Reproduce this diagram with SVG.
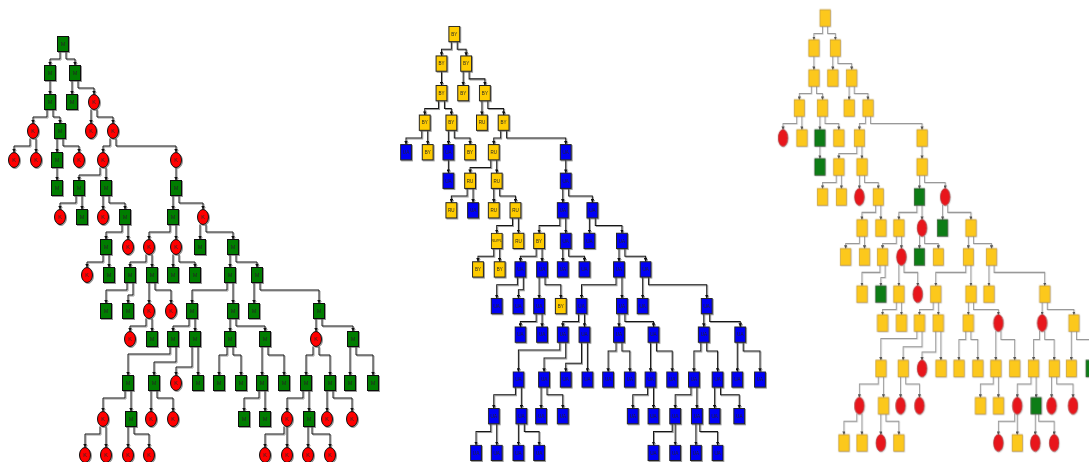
<svg xmlns="http://www.w3.org/2000/svg" width="1089" height="462" viewBox="0 0 1089 462">
<defs>
<marker id="ar" viewBox="0 0 6 6" refX="6" refY="3" markerWidth="3.6" markerHeight="3.6" orient="auto" markerUnits="userSpaceOnUse"><path d="M0,0L6,3L0,6z" fill="#111"/></marker>
<marker id="ar3" viewBox="0 0 6 6" refX="6" refY="3" markerWidth="3.6" markerHeight="3.6" orient="auto" markerUnits="userSpaceOnUse"><path d="M0,0L6,3L0,6z" fill="#555"/></marker>
<filter id="sh" x="-20%" y="-20%" width="140%" height="140%"><feDropShadow dx="1" dy="1" stdDeviation="0.5" flood-color="#555" flood-opacity="0.6"/></filter>
<filter id="sh3" x="-20%" y="-20%" width="140%" height="140%"><feDropShadow dx="0.6" dy="0.6" stdDeviation="0.6" flood-color="#888" flood-opacity="0.5"/></filter>
</defs>
<style>
.c{filter:url(#sh)}
.c path{fill:none;stroke:#151515;stroke-width:1;marker-end:url(#ar)}
.c3{filter:url(#sh3)}
.c3 path{fill:none;stroke:#999;stroke-width:1;marker-end:url(#ar3)}
.nd{filter:url(#sh)}
.nd3{filter:url(#sh3)}
.gm{fill:#017d01;stroke:#111;stroke-width:1}
.rk{fill:#f00;stroke:#111;stroke-width:1}
.yb{fill:#ffcc00;stroke:#222;stroke-width:1}
.bu{fill:#0000f5;stroke:#222;stroke-width:1}
.y3{fill:#fcc81c;stroke:#c9a033;stroke-width:0.8}
.g3{fill:#0b7d16;stroke:#2a5a2a;stroke-width:0.8}
.r3{fill:#e8141b;stroke:#b04040;stroke-width:0.8}
text{font-family:"Liberation Sans",Arial,sans-serif;text-anchor:middle;fill:#262626}
.t1 text{font-size:5.5px}
.t2 text{font-size:4.6px}
.t2 text.s{font-size:3.6px}
</style>

<!-- ===== Tree 1 ===== -->
<g id="tree1">
<g id="conn1" class="c">
<path d="M60,51.5V59H50V65.5"/><path d="M66,51.5V59H75V65.5"/><path d="M50,80.5V94.5"/><path d="M72,80.5V94.5"/><path d="M78,80.5V88H94V94.5"/>
<path d="M47,109.5V117H33V123.5"/><path d="M53,109.5V117H60V123.5"/><path d="M91,109.5V123.5"/><path d="M97,109.5V117H113V123.5"/>
<path d="M30,138.5V146H14V152.5"/><path d="M36,138.5V152.5"/><path d="M57,138.5V152.5"/><path d="M63,138.5V146H79V152.5"/><path d="M110,138.5V146H103V152.5"/><path d="M116,138.5V146H176V152.5"/>
<path d="M57,167.5V180.5"/><path d="M100,167.5V175H79V180.5"/><path d="M106,167.5V180.5"/><path d="M176,167.5V180.5"/>
<path d="M76,195.5V203H60V209.5"/><path d="M82,195.5V209.5"/><path d="M103,195.5V209.5"/><path d="M109,195.5V203H125V209.5"/><path d="M173,195.5V209.5"/><path d="M179,195.5V203H203V209.5"/>
<path d="M122,224.5V232H106V239.5"/><path d="M128,224.5V239.5"/><path d="M170,224.5V232H149V239.5"/><path d="M176,224.5V239.5"/><path d="M200,224.5V239.5"/><path d="M206,224.5V232H233V239.5"/>
<path d="M103,254.5V262H87V267.5"/><path d="M109,254.5V267.5"/><path d="M146,254.5V262H130V267.5"/><path d="M152,254.5V267.5"/><path d="M173,254.5V267.5"/><path d="M179,254.5V262H195V267.5"/><path d="M230,254.5V267.5"/><path d="M236,254.5V262H257V267.5"/>
<path d="M127,282.5V290H106V303.5"/><path d="M133,282.5V295H128V303.5"/><path d="M149,282.5V303.5"/><path d="M155,282.5V290H171V303.5"/><path d="M227,282.5V290H192V303.5"/><path d="M233,282.5V303.5"/><path d="M254,282.5V303.5"/><path d="M260,282.5V290H319V303.5"/>
<path d="M146,318.5V326H130V331.5"/><path d="M152,318.5V331.5"/><path d="M189,318.5V326H173V331.5"/><path d="M195,318.5V331.5"/><path d="M230,318.5V331.5"/><path d="M236,318.5V326H265V331.5"/><path d="M316,318.5V331.5"/><path d="M322,318.5V326H353V331.5"/>
<path d="M170,346.5V354H128V375.5"/><path d="M176,346.5V362H154V375.5"/><path d="M192,346.5V367H176V375.5"/><path d="M198,346.5V375.5"/><path d="M227,346.5V355H219V375.5"/><path d="M233,346.5V355H241V375.5"/><path d="M262,346.5V375.5"/><path d="M268,346.5V355H284V375.5"/><path d="M313,346.5V355H306V375.5"/><path d="M319,346.5V355H330V375.5"/><path d="M350,346.5V375.5"/><path d="M356,346.5V355H373V375.5"/>
<path d="M125,390.5V398H103V411.5"/><path d="M131,390.5V411.5"/><path d="M151,390.5V411.5"/><path d="M157,390.5V398H173V411.5"/><path d="M259,390.5V398H244V411.5"/><path d="M265,390.5V411.5"/><path d="M303,390.5V398H287V411.5"/><path d="M309,390.5V411.5"/><path d="M327,390.5V411.5"/><path d="M333,390.5V398H352V411.5"/>
<path d="M100,426.5V434H85V447.5"/><path d="M106,426.5V447.5"/><path d="M128,426.5V447.5"/><path d="M134,426.5V434H149V447.5"/><path d="M284,426.5V434H265V447.5"/><path d="M287,426.5V447.5"/><path d="M308,426.5V447.5"/><path d="M312,426.5V434H330V447.5"/>
</g>
<g id="nodes1" class="nd t1">
<g id="a0" transform="translate(63,44)"><rect class="gm" x="-5.5" y="-7.5" width="11" height="15"/><text y="2">M</text></g>
<g id="a1" transform="translate(50,73)"><rect class="gm" x="-5.5" y="-7.5" width="11" height="15"/><text y="2">M</text></g>
<g id="a2" transform="translate(75,73)"><rect class="gm" x="-5.5" y="-7.5" width="11" height="15"/><text y="2">M</text></g>
<g id="a3" transform="translate(50,102)"><rect class="gm" x="-5.5" y="-7.5" width="11" height="15"/><text y="2">M</text></g>
<g id="a4" transform="translate(72,102)"><rect class="gm" x="-5.5" y="-7.5" width="11" height="15"/><text y="2">M</text></g>
<g id="a5" transform="translate(94,102)"><ellipse class="rk" rx="5.5" ry="7.5"/><text y="2">K</text></g>
<g id="a6" transform="translate(33,131)"><ellipse class="rk" rx="5.5" ry="7.5"/><text y="2">K</text></g>
<g id="a7" transform="translate(60,131)"><rect class="gm" x="-5.5" y="-7.5" width="11" height="15"/><text y="2">M</text></g>
<g id="a8" transform="translate(91,131)"><ellipse class="rk" rx="5.5" ry="7.5"/><text y="2">K</text></g>
<g id="a9" transform="translate(113,131)"><ellipse class="rk" rx="5.5" ry="7.5"/><text y="2">K</text></g>
<g id="a10" transform="translate(14,160)"><ellipse class="rk" rx="5.5" ry="7.5"/><text y="2">K</text></g>
<g id="a11" transform="translate(36,160)"><ellipse class="rk" rx="5.5" ry="7.5"/><text y="2">K</text></g>
<g id="a12" transform="translate(57,160)"><rect class="gm" x="-5.5" y="-7.5" width="11" height="15"/><text y="2">M</text></g>
<g id="a13" transform="translate(79,160)"><ellipse class="rk" rx="5.5" ry="7.5"/><text y="2">K</text></g>
<g id="a14" transform="translate(103,160)"><ellipse class="rk" rx="5.5" ry="7.5"/><text y="2">K</text></g>
<g id="a15" transform="translate(176,160)"><ellipse class="rk" rx="5.5" ry="7.5"/><text y="2">K</text></g>
<g id="a16" transform="translate(57,188)"><rect class="gm" x="-5.5" y="-7.5" width="11" height="15"/><text y="2">M</text></g>
<g id="a17" transform="translate(79,188)"><rect class="gm" x="-5.5" y="-7.5" width="11" height="15"/><text y="2">M</text></g>
<g id="a18" transform="translate(106,188)"><rect class="gm" x="-5.5" y="-7.5" width="11" height="15"/><text y="2">M</text></g>
<g id="a19" transform="translate(176,188)"><rect class="gm" x="-5.5" y="-7.5" width="11" height="15"/><text y="2">M</text></g>
<g id="a20" transform="translate(60,217)"><ellipse class="rk" rx="5.5" ry="7.5"/><text y="2">K</text></g>
<g id="a21" transform="translate(82,217)"><rect class="gm" x="-5.5" y="-7.5" width="11" height="15"/><text y="2">M</text></g>
<g id="a22" transform="translate(103,217)"><ellipse class="rk" rx="5.5" ry="7.5"/><text y="2">K</text></g>
<g id="a23" transform="translate(125,217)"><rect class="gm" x="-5.5" y="-7.5" width="11" height="15"/><text y="2">M</text></g>
<g id="a24" transform="translate(173,217)"><rect class="gm" x="-5.5" y="-7.5" width="11" height="15"/><text y="2">M</text></g>
<g id="a25" transform="translate(203,217)"><ellipse class="rk" rx="5.5" ry="7.5"/><text y="2">K</text></g>
<g id="a26" transform="translate(106,247)"><rect class="gm" x="-5.5" y="-7.5" width="11" height="15"/><text y="2">M</text></g>
<g id="a27" transform="translate(128,247)"><ellipse class="rk" rx="5.5" ry="7.5"/><text y="2">K</text></g>
<g id="a28" transform="translate(149,247)"><ellipse class="rk" rx="5.5" ry="7.5"/><text y="2">K</text></g>
<g id="a29" transform="translate(176,247)"><ellipse class="rk" rx="5.5" ry="7.5"/><text y="2">K</text></g>
<g id="a30" transform="translate(200,247)"><rect class="gm" x="-5.5" y="-7.5" width="11" height="15"/><text y="2">M</text></g>
<g id="a31" transform="translate(233,247)"><rect class="gm" x="-5.5" y="-7.5" width="11" height="15"/><text y="2">M</text></g>
<g id="a32" transform="translate(87,275)"><ellipse class="rk" rx="5.5" ry="7.5"/><text y="2">K</text></g>
<g id="a33" transform="translate(109,275)"><rect class="gm" x="-5.5" y="-7.5" width="11" height="15"/><text y="2">M</text></g>
<g id="a34" transform="translate(130,275)"><rect class="gm" x="-5.5" y="-7.5" width="11" height="15"/><text y="2">M</text></g>
<g id="a35" transform="translate(152,275)"><rect class="gm" x="-5.5" y="-7.5" width="11" height="15"/><text y="2">M</text></g>
<g id="a36" transform="translate(173,275)"><rect class="gm" x="-5.5" y="-7.5" width="11" height="15"/><text y="2">M</text></g>
<g id="a37" transform="translate(195,275)"><rect class="gm" x="-5.5" y="-7.5" width="11" height="15"/><text y="2">M</text></g>
<g id="a38" transform="translate(230,275)"><rect class="gm" x="-5.5" y="-7.5" width="11" height="15"/><text y="2">M</text></g>
<g id="a39" transform="translate(257,275)"><rect class="gm" x="-5.5" y="-7.5" width="11" height="15"/><text y="2">M</text></g>
<g id="a40" transform="translate(106,311)"><rect class="gm" x="-5.5" y="-7.5" width="11" height="15"/><text y="2">M</text></g>
<g id="a41" transform="translate(128,311)"><rect class="gm" x="-5.5" y="-7.5" width="11" height="15"/><text y="2">M</text></g>
<g id="a42" transform="translate(149,311)"><ellipse class="rk" rx="5.5" ry="7.5"/><text y="2">K</text></g>
<g id="a43" transform="translate(171,311)"><ellipse class="rk" rx="5.5" ry="7.5"/><text y="2">K</text></g>
<g id="a44" transform="translate(192,311)"><rect class="gm" x="-5.5" y="-7.5" width="11" height="15"/><text y="2">M</text></g>
<g id="a45" transform="translate(233,311)"><rect class="gm" x="-5.5" y="-7.5" width="11" height="15"/><text y="2">M</text></g>
<g id="a46" transform="translate(254,311)"><rect class="gm" x="-5.5" y="-7.5" width="11" height="15"/><text y="2">M</text></g>
<g id="a47" transform="translate(319,311)"><rect class="gm" x="-5.5" y="-7.5" width="11" height="15"/><text y="2">M</text></g>
<g id="a48" transform="translate(130,339)"><ellipse class="rk" rx="5.5" ry="7.5"/><text y="2">K</text></g>
<g id="a49" transform="translate(152,339)"><rect class="gm" x="-5.5" y="-7.5" width="11" height="15"/><text y="2">M</text></g>
<g id="a50" transform="translate(173,339)"><rect class="gm" x="-5.5" y="-7.5" width="11" height="15"/><text y="2">M</text></g>
<g id="a51" transform="translate(195,339)"><rect class="gm" x="-5.5" y="-7.5" width="11" height="15"/><text y="2">M</text></g>
<g id="a52" transform="translate(230,339)"><rect class="gm" x="-5.5" y="-7.5" width="11" height="15"/><text y="2">M</text></g>
<g id="a53" transform="translate(265,339)"><rect class="gm" x="-5.5" y="-7.5" width="11" height="15"/><text y="2">M</text></g>
<g id="a54" transform="translate(316,339)"><ellipse class="rk" rx="5.5" ry="7.5"/><text y="2">K</text></g>
<g id="a55" transform="translate(353,339)"><rect class="gm" x="-5.5" y="-7.5" width="11" height="15"/><text y="2">M</text></g>
<g id="a56" transform="translate(128,383)"><rect class="gm" x="-5.5" y="-7.5" width="11" height="15"/><text y="2">M</text></g>
<g id="a57" transform="translate(154,383)"><rect class="gm" x="-5.5" y="-7.5" width="11" height="15"/><text y="2">M</text></g>
<g id="a58" transform="translate(176,383)"><ellipse class="rk" rx="5.5" ry="7.5"/><text y="2">K</text></g>
<g id="a59" transform="translate(198,383)"><rect class="gm" x="-5.5" y="-7.5" width="11" height="15"/><text y="2">M</text></g>
<g id="a60" transform="translate(219,383)"><rect class="gm" x="-5.5" y="-7.5" width="11" height="15"/><text y="2">M</text></g>
<g id="a61" transform="translate(241,383)"><rect class="gm" x="-5.5" y="-7.5" width="11" height="15"/><text y="2">M</text></g>
<g id="a62" transform="translate(262,383)"><rect class="gm" x="-5.5" y="-7.5" width="11" height="15"/><text y="2">M</text></g>
<g id="a63" transform="translate(284,383)"><rect class="gm" x="-5.5" y="-7.5" width="11" height="15"/><text y="2">M</text></g>
<g id="a64" transform="translate(306,383)"><rect class="gm" x="-5.5" y="-7.5" width="11" height="15"/><text y="2">M</text></g>
<g id="a65" transform="translate(330,383)"><rect class="gm" x="-5.5" y="-7.5" width="11" height="15"/><text y="2">M</text></g>
<g id="a66" transform="translate(350,383)"><rect class="gm" x="-5.5" y="-7.5" width="11" height="15"/><text y="2">M</text></g>
<g id="a67" transform="translate(373,383)"><rect class="gm" x="-5.5" y="-7.5" width="11" height="15"/><text y="2">M</text></g>
<g id="a68" transform="translate(103,419)"><ellipse class="rk" rx="5.5" ry="7.5"/><text y="2">K</text></g>
<g id="a69" transform="translate(131,419)"><rect class="gm" x="-5.5" y="-7.5" width="11" height="15"/><text y="2">M</text></g>
<g id="a70" transform="translate(151,419)"><ellipse class="rk" rx="5.5" ry="7.5"/><text y="2">K</text></g>
<g id="a71" transform="translate(173,419)"><ellipse class="rk" rx="5.5" ry="7.5"/><text y="2">K</text></g>
<g id="a72" transform="translate(244,419)"><rect class="gm" x="-5.5" y="-7.5" width="11" height="15"/><text y="2">M</text></g>
<g id="a73" transform="translate(265,419)"><rect class="gm" x="-5.5" y="-7.5" width="11" height="15"/><text y="2">M</text></g>
<g id="a74" transform="translate(287,419)"><ellipse class="rk" rx="5.5" ry="7.5"/><text y="2">K</text></g>
<g id="a75" transform="translate(309,419)"><rect class="gm" x="-5.5" y="-7.5" width="11" height="15"/><text y="2">M</text></g>
<g id="a76" transform="translate(327,419)"><ellipse class="rk" rx="5.5" ry="7.5"/><text y="2">K</text></g>
<g id="a77" transform="translate(352,419)"><ellipse class="rk" rx="5.5" ry="7.5"/><text y="2">K</text></g>
<g id="a78" transform="translate(85,455)"><ellipse class="rk" rx="5.5" ry="7.5"/><text y="2">K</text></g>
<g id="a79" transform="translate(106,455)"><ellipse class="rk" rx="5.5" ry="7.5"/><text y="2">K</text></g>
<g id="a80" transform="translate(128,455)"><ellipse class="rk" rx="5.5" ry="7.5"/><text y="2">K</text></g>
<g id="a81" transform="translate(149,455)"><ellipse class="rk" rx="5.5" ry="7.5"/><text y="2">K</text></g>
<g id="a82" transform="translate(265,455)"><ellipse class="rk" rx="5.5" ry="7.5"/><text y="2">K</text></g>
<g id="a83" transform="translate(287,455)"><ellipse class="rk" rx="5.5" ry="7.5"/><text y="2">K</text></g>
<g id="a84" transform="translate(308,455)"><ellipse class="rk" rx="5.5" ry="7.5"/><text y="2">K</text></g>
<g id="a85" transform="translate(330,455)"><ellipse class="rk" rx="5.5" ry="7.5"/><text y="2">K</text></g>
</g>
</g>

<!-- ===== Tree 2 ===== -->
<g id="tree2" transform="matrix(0.986 0 0 1.019 392.2 -10.8)">
<g id="conn2" class="c">
<path d="M60,51.5V59H50V65.5"/><path d="M66,51.5V59H75V65.5"/><path d="M50,80.5V94.5"/><path d="M72,80.5V94.5"/><path d="M78,80.5V88H94V94.5"/>
<path d="M47,109.5V117H33V123.5"/><path d="M53,109.5V117H60V123.5"/><path d="M91,109.5V123.5"/><path d="M97,109.5V117H113V123.5"/>
<path d="M30,138.5V146H14V152.5"/><path d="M36,138.5V152.5"/><path d="M57,138.5V152.5"/><path d="M63,138.5V146H79V152.5"/><path d="M110,138.5V146H103V152.5"/><path d="M116,138.5V146H176V152.5"/>
<path d="M57,167.5V180.5"/><path d="M100,167.5V175H79V180.5"/><path d="M106,167.5V180.5"/><path d="M176,167.5V180.5"/>
<path d="M76,195.5V203H60V209.5"/><path d="M82,195.5V209.5"/><path d="M103,195.5V209.5"/><path d="M109,195.5V203H125V209.5"/><path d="M173,195.5V209.5"/><path d="M179,195.5V203H203V209.5"/>
<path d="M122,224.5V232H106V239.5"/><path d="M128,224.5V239.5"/><path d="M170,224.5V232H149V239.5"/><path d="M176,224.5V239.5"/><path d="M200,224.5V239.5"/><path d="M206,224.5V232H233V239.5"/>
<path d="M103,254.5V262H87V267.5"/><path d="M109,254.5V267.5"/><path d="M146,254.5V262H130V267.5"/><path d="M152,254.5V267.5"/><path d="M173,254.5V267.5"/><path d="M179,254.5V262H195V267.5"/><path d="M230,254.5V267.5"/><path d="M236,254.5V262H257V267.5"/>
<path d="M127,282.5V290H106V303.5"/><path d="M133,282.5V295H128V303.5"/><path d="M149,282.5V303.5"/><path d="M155,282.5V290H171V303.5"/><path d="M227,282.5V290H192V303.5"/><path d="M233,282.5V303.5"/><path d="M254,282.5V303.5"/><path d="M260,282.5V290H319V303.5"/>
<path d="M146,318.5V326H130V331.5"/><path d="M152,318.5V331.5"/><path d="M189,318.5V326H173V331.5"/><path d="M195,318.5V331.5"/><path d="M230,318.5V331.5"/><path d="M236,318.5V326H265V331.5"/><path d="M316,318.5V331.5"/><path d="M322,318.5V326H353V331.5"/>
<path d="M170,346.5V354H128V375.5"/><path d="M176,346.5V362H154V375.5"/><path d="M192,346.5V367H176V375.5"/><path d="M198,346.5V375.5"/><path d="M227,346.5V355H219V375.5"/><path d="M233,346.5V355H241V375.5"/><path d="M262,346.5V375.5"/><path d="M268,346.5V355H284V375.5"/><path d="M313,346.5V355H306V375.5"/><path d="M319,346.5V355H330V375.5"/><path d="M350,346.5V375.5"/><path d="M356,346.5V355H373V375.5"/>
<path d="M125,390.5V398H103V411.5"/><path d="M131,390.5V411.5"/><path d="M151,390.5V411.5"/><path d="M157,390.5V398H173V411.5"/><path d="M259,390.5V398H244V411.5"/><path d="M265,390.5V411.5"/><path d="M303,390.5V398H287V411.5"/><path d="M309,390.5V411.5"/><path d="M327,390.5V411.5"/><path d="M333,390.5V398H352V411.5"/>
<path d="M100,426.5V434H85V447.5"/><path d="M106,426.5V447.5"/><path d="M128,426.5V447.5"/><path d="M134,426.5V434H149V447.5"/><path d="M284,426.5V434H265V447.5"/><path d="M287,426.5V447.5"/><path d="M308,426.5V447.5"/><path d="M312,426.5V434H330V447.5"/>
</g>
<g id="nodes2" class="nd t2">
<g id="b0" transform="translate(63,44)"><rect class="yb" x="-5.5" y="-7.5" width="11" height="15"/><text y="1.7">BY</text></g>
<g id="b1" transform="translate(50,73)"><rect class="yb" x="-5.5" y="-7.5" width="11" height="15"/><text y="1.7">BY</text></g>
<g id="b2" transform="translate(75,73)"><rect class="yb" x="-5.5" y="-7.5" width="11" height="15"/><text y="1.7">BY</text></g>
<g id="b3" transform="translate(50,102)"><rect class="yb" x="-5.5" y="-7.5" width="11" height="15"/><text y="1.7">BY</text></g>
<g id="b4" transform="translate(72,102)"><rect class="yb" x="-5.5" y="-7.5" width="11" height="15"/><text y="1.7">BY</text></g>
<g id="b5" transform="translate(94,102)"><rect class="yb" x="-5.5" y="-7.5" width="11" height="15"/><text y="1.7">BY</text></g>
<g id="b6" transform="translate(33,131)"><rect class="yb" x="-5.5" y="-7.5" width="11" height="15"/><text y="1.7">BY</text></g>
<g id="b7" transform="translate(60,131)"><rect class="yb" x="-5.5" y="-7.5" width="11" height="15"/><text y="1.7">BY</text></g>
<g id="b8" transform="translate(91,131)"><rect class="yb" x="-5.5" y="-7.5" width="11" height="15"/><text y="1.7">RU</text></g>
<g id="b9" transform="translate(113,131)"><rect class="yb" x="-5.5" y="-7.5" width="11" height="15"/><text y="1.7">BY</text></g>
<g id="b10" transform="translate(14,160)"><rect class="bu" x="-5.5" y="-7.5" width="11" height="15"/><text y="1.7">UA</text></g>
<g id="b11" transform="translate(36,160)"><rect class="yb" x="-5.5" y="-7.5" width="11" height="15"/><text y="1.7">BY</text></g>
<g id="b12" transform="translate(57,160)"><rect class="bu" x="-5.5" y="-7.5" width="11" height="15"/><text y="1.7">UA</text></g>
<g id="b13" transform="translate(79,160)"><rect class="yb" x="-5.5" y="-7.5" width="11" height="15"/><text y="1.7">BY</text></g>
<g id="b14" transform="translate(103,160)"><rect class="yb" x="-5.5" y="-7.5" width="11" height="15"/><text y="1.7">RU</text></g>
<g id="b15" transform="translate(176,160)"><rect class="bu" x="-5.5" y="-7.5" width="11" height="15"/><text y="1.7">UA</text></g>
<g id="b16" transform="translate(57,188)"><rect class="bu" x="-5.5" y="-7.5" width="11" height="15"/><text y="1.7">UA</text></g>
<g id="b17" transform="translate(79,188)"><rect class="yb" x="-5.5" y="-7.5" width="11" height="15"/><text y="1.7">RU</text></g>
<g id="b18" transform="translate(106,188)"><rect class="yb" x="-5.5" y="-7.5" width="11" height="15"/><text y="1.7">RU</text></g>
<g id="b19" transform="translate(176,188)"><rect class="bu" x="-5.5" y="-7.5" width="11" height="15"/><text y="1.7">UA</text></g>
<g id="b20" transform="translate(60,217)"><rect class="yb" x="-5.5" y="-7.5" width="11" height="15"/><text y="1.7">RU</text></g>
<g id="b21" transform="translate(82,217)"><rect class="bu" x="-5.5" y="-7.5" width="11" height="15"/><text y="1.7">UA</text></g>
<g id="b22" transform="translate(103,217)"><rect class="yb" x="-5.5" y="-7.5" width="11" height="15"/><text y="1.7">RU</text></g>
<g id="b23" transform="translate(125,217)"><rect class="yb" x="-5.5" y="-7.5" width="11" height="15"/><text y="1.7">RU</text></g>
<g id="b24" transform="translate(173,217)"><rect class="bu" x="-5.5" y="-7.5" width="11" height="15"/><text y="1.7">UA</text></g>
<g id="b25" transform="translate(203,217)"><rect class="bu" x="-5.5" y="-7.5" width="11" height="15"/><text y="1.7">UA</text></g>
<g id="b26" transform="translate(106,247)"><rect class="yb" x="-5.5" y="-7.5" width="11" height="15"/><text class="s" y="1.4">RU/PL</text></g>
<g id="b27" transform="translate(128,247)"><rect class="yb" x="-5.5" y="-7.5" width="11" height="15"/><text y="1.7">RU</text></g>
<g id="b28" transform="translate(149,247)"><rect class="yb" x="-5.5" y="-7.5" width="11" height="15"/><text y="1.7">BY</text></g>
<g id="b29" transform="translate(176,247)"><rect class="bu" x="-5.5" y="-7.5" width="11" height="15"/><text y="1.7">UA</text></g>
<g id="b30" transform="translate(200,247)"><rect class="bu" x="-5.5" y="-7.5" width="11" height="15"/><text y="1.7">UA</text></g>
<g id="b31" transform="translate(233,247)"><rect class="bu" x="-5.5" y="-7.5" width="11" height="15"/><text y="1.7">UA</text></g>
<g id="b32" transform="translate(87,275)"><rect class="yb" x="-5.5" y="-7.5" width="11" height="15"/><text y="1.7">BY</text></g>
<g id="b33" transform="translate(109,275)"><rect class="yb" x="-5.5" y="-7.5" width="11" height="15"/><text y="1.7">BY</text></g>
<g id="b34" transform="translate(130,275)"><rect class="bu" x="-5.5" y="-7.5" width="11" height="15"/><text y="1.7">UA</text></g>
<g id="b35" transform="translate(152,275)"><rect class="bu" x="-5.5" y="-7.5" width="11" height="15"/><text y="1.7">UA</text></g>
<g id="b36" transform="translate(173,275)"><rect class="bu" x="-5.5" y="-7.5" width="11" height="15"/><text y="1.7">UA</text></g>
<g id="b37" transform="translate(195,275)"><rect class="bu" x="-5.5" y="-7.5" width="11" height="15"/><text y="1.7">UA</text></g>
<g id="b38" transform="translate(230,275)"><rect class="bu" x="-5.5" y="-7.5" width="11" height="15"/><text y="1.7">UA</text></g>
<g id="b39" transform="translate(257,275)"><rect class="bu" x="-5.5" y="-7.5" width="11" height="15"/><text y="1.7">UA</text></g>
<g id="b40" transform="translate(106,311)"><rect class="bu" x="-5.5" y="-7.5" width="11" height="15"/><text y="1.7">UA</text></g>
<g id="b41" transform="translate(128,311)"><rect class="bu" x="-5.5" y="-7.5" width="11" height="15"/><text y="1.7">UA</text></g>
<g id="b42" transform="translate(149,311)"><rect class="bu" x="-5.5" y="-7.5" width="11" height="15"/><text y="1.7">UA</text></g>
<g id="b43" transform="translate(171,311)"><rect class="yb" x="-5.5" y="-7.5" width="11" height="15"/><text y="1.7">BY</text></g>
<g id="b44" transform="translate(192,311)"><rect class="bu" x="-5.5" y="-7.5" width="11" height="15"/><text y="1.7">UA</text></g>
<g id="b45" transform="translate(233,311)"><rect class="bu" x="-5.5" y="-7.5" width="11" height="15"/><text y="1.7">UA</text></g>
<g id="b46" transform="translate(254,311)"><rect class="bu" x="-5.5" y="-7.5" width="11" height="15"/><text y="1.7">UA</text></g>
<g id="b47" transform="translate(319,311)"><rect class="bu" x="-5.5" y="-7.5" width="11" height="15"/><text y="1.7">UA</text></g>
<g id="b48" transform="translate(130,339)"><rect class="bu" x="-5.5" y="-7.5" width="11" height="15"/><text y="1.7">UA</text></g>
<g id="b49" transform="translate(152,339)"><rect class="bu" x="-5.5" y="-7.5" width="11" height="15"/><text y="1.7">UA</text></g>
<g id="b50" transform="translate(173,339)"><rect class="bu" x="-5.5" y="-7.5" width="11" height="15"/><text y="1.7">UA</text></g>
<g id="b51" transform="translate(195,339)"><rect class="bu" x="-5.5" y="-7.5" width="11" height="15"/><text y="1.7">UA</text></g>
<g id="b52" transform="translate(230,339)"><rect class="bu" x="-5.5" y="-7.5" width="11" height="15"/><text y="1.7">UA</text></g>
<g id="b53" transform="translate(265,339)"><rect class="bu" x="-5.5" y="-7.5" width="11" height="15"/><text y="1.7">UA</text></g>
<g id="b54" transform="translate(316,339)"><rect class="bu" x="-5.5" y="-7.5" width="11" height="15"/><text y="1.7">UA</text></g>
<g id="b55" transform="translate(353,339)"><rect class="bu" x="-5.5" y="-7.5" width="11" height="15"/><text y="1.7">UA</text></g>
<g id="b56" transform="translate(128,383)"><rect class="bu" x="-5.5" y="-7.5" width="11" height="15"/><text y="1.7">UA</text></g>
<g id="b57" transform="translate(154,383)"><rect class="bu" x="-5.5" y="-7.5" width="11" height="15"/><text y="1.7">UA</text></g>
<g id="b58" transform="translate(176,383)"><rect class="bu" x="-5.5" y="-7.5" width="11" height="15"/><text y="1.7">UA</text></g>
<g id="b59" transform="translate(198,383)"><rect class="bu" x="-5.5" y="-7.5" width="11" height="15"/><text y="1.7">UA</text></g>
<g id="b60" transform="translate(219,383)"><rect class="bu" x="-5.5" y="-7.5" width="11" height="15"/><text y="1.7">UA</text></g>
<g id="b61" transform="translate(241,383)"><rect class="bu" x="-5.5" y="-7.5" width="11" height="15"/><text y="1.7">UA</text></g>
<g id="b62" transform="translate(262,383)"><rect class="bu" x="-5.5" y="-7.5" width="11" height="15"/><text y="1.7">UA</text></g>
<g id="b63" transform="translate(284,383)"><rect class="bu" x="-5.5" y="-7.5" width="11" height="15"/><text y="1.7">UA</text></g>
<g id="b64" transform="translate(306,383)"><rect class="bu" x="-5.5" y="-7.5" width="11" height="15"/><text y="1.7">UA</text></g>
<g id="b65" transform="translate(330,383)"><rect class="bu" x="-5.5" y="-7.5" width="11" height="15"/><text y="1.7">UA</text></g>
<g id="b66" transform="translate(350,383)"><rect class="bu" x="-5.5" y="-7.5" width="11" height="15"/><text y="1.7">UA</text></g>
<g id="b67" transform="translate(373,383)"><rect class="bu" x="-5.5" y="-7.5" width="11" height="15"/><text y="1.7">UA</text></g>
<g id="b68" transform="translate(103,419)"><rect class="bu" x="-5.5" y="-7.5" width="11" height="15"/><text y="1.7">UA</text></g>
<g id="b69" transform="translate(131,419)"><rect class="bu" x="-5.5" y="-7.5" width="11" height="15"/><text y="1.7">UA</text></g>
<g id="b70" transform="translate(151,419)"><rect class="bu" x="-5.5" y="-7.5" width="11" height="15"/><text y="1.7">UA</text></g>
<g id="b71" transform="translate(173,419)"><rect class="bu" x="-5.5" y="-7.5" width="11" height="15"/><text y="1.7">UA</text></g>
<g id="b72" transform="translate(244,419)"><rect class="bu" x="-5.5" y="-7.5" width="11" height="15"/><text y="1.7">UA</text></g>
<g id="b73" transform="translate(265,419)"><rect class="bu" x="-5.5" y="-7.5" width="11" height="15"/><text y="1.7">UA</text></g>
<g id="b74" transform="translate(287,419)"><rect class="bu" x="-5.5" y="-7.5" width="11" height="15"/><text y="1.7">UA</text></g>
<g id="b75" transform="translate(309,419)"><rect class="bu" x="-5.5" y="-7.5" width="11" height="15"/><text y="1.7">UA</text></g>
<g id="b76" transform="translate(327,419)"><rect class="bu" x="-5.5" y="-7.5" width="11" height="15"/><text y="1.7">UA</text></g>
<g id="b77" transform="translate(352,419)"><rect class="bu" x="-5.5" y="-7.5" width="11" height="15"/><text y="1.7">UA</text></g>
<g id="b78" transform="translate(85,455)"><rect class="bu" x="-5.5" y="-7.5" width="11" height="15"/><text y="1.7">UA</text></g>
<g id="b79" transform="translate(106,455)"><rect class="bu" x="-5.5" y="-7.5" width="11" height="15"/><text y="1.7">UA</text></g>
<g id="b80" transform="translate(128,455)"><rect class="bu" x="-5.5" y="-7.5" width="11" height="15"/><text y="1.7">UA</text></g>
<g id="b81" transform="translate(149,455)"><rect class="bu" x="-5.5" y="-7.5" width="11" height="15"/><text y="1.7">UA</text></g>
<g id="b82" transform="translate(265,455)"><rect class="bu" x="-5.5" y="-7.5" width="11" height="15"/><text y="1.7">UA</text></g>
<g id="b83" transform="translate(287,455)"><rect class="bu" x="-5.5" y="-7.5" width="11" height="15"/><text y="1.7">UA</text></g>
<g id="b84" transform="translate(308,455)"><rect class="bu" x="-5.5" y="-7.5" width="11" height="15"/><text y="1.7">UA</text></g>
<g id="b85" transform="translate(330,455)"><rect class="bu" x="-5.5" y="-7.5" width="11" height="15"/><text y="1.7">UA</text></g>
</g>
</g>

<!-- ===== Tree 3 ===== -->
<g id="tree3" transform="matrix(0.858 0 0 1.034 771 -27.5)">
<g id="conn3" class="c3">
<path d="M60,51.5V59H50V65.5"/><path d="M66,51.5V59H75V65.5"/><path d="M50,80.5V94.5"/><path d="M72,80.5V94.5"/><path d="M78,80.5V88H94V94.5"/>
<path d="M47,109.5V117H33V123.5"/><path d="M53,109.5V117H60V123.5"/><path d="M91,109.5V123.5"/><path d="M97,109.5V117H113V123.5"/>
<path d="M30,138.5V146H14V152.5"/><path d="M36,138.5V152.5"/><path d="M57,138.5V152.5"/><path d="M63,138.5V146H79V152.5"/><path d="M110,138.5V146H103V152.5"/><path d="M116,138.5V146H176V152.5"/>
<path d="M57,167.5V180.5"/><path d="M100,167.5V175H79V180.5"/><path d="M106,167.5V180.5"/><path d="M176,167.5V180.5"/>
<path d="M76,195.5V203H60V209.5"/><path d="M82,195.5V209.5"/><path d="M103,195.5V209.5"/><path d="M109,195.5V203H125V209.5"/><path d="M173,195.5V209.5"/><path d="M179,195.5V203H203V209.5"/>
<path d="M122,224.5V232H106V239.5"/><path d="M128,224.5V239.5"/><path d="M170,224.5V232H149V239.5"/><path d="M176,224.5V239.5"/><path d="M200,224.5V239.5"/><path d="M206,224.5V232H233V239.5"/>
<path d="M103,254.5V262H87V267.5"/><path d="M109,254.5V267.5"/><path d="M146,254.5V262H130V267.5"/><path d="M152,254.5V267.5"/><path d="M173,254.5V267.5"/><path d="M179,254.5V262H195V267.5"/><path d="M230,254.5V267.5"/><path d="M236,254.5V262H257V267.5"/>
<path d="M127,282.5V290H106V303.5"/><path d="M133,282.5V295H128V303.5"/><path d="M149,282.5V303.5"/><path d="M155,282.5V290H171V303.5"/><path d="M227,282.5V290H192V303.5"/><path d="M233,282.5V303.5"/><path d="M254,282.5V303.5"/><path d="M260,282.5V290H319V303.5"/>
<path d="M146,318.5V326H130V331.5"/><path d="M152,318.5V331.5"/><path d="M189,318.5V326H173V331.5"/><path d="M195,318.5V331.5"/><path d="M230,318.5V331.5"/><path d="M236,318.5V326H265V331.5"/><path d="M316,318.5V331.5"/><path d="M322,318.5V326H353V331.5"/>
<path d="M170,346.5V354H128V375.5"/><path d="M176,346.5V362H154V375.5"/><path d="M192,346.5V367H176V375.5"/><path d="M198,346.5V375.5"/><path d="M227,346.5V355H219V375.5"/><path d="M233,346.5V355H241V375.5"/><path d="M262,346.5V375.5"/><path d="M268,346.5V355H284V375.5"/><path d="M313,346.5V355H306V375.5"/><path d="M319,346.5V355H330V375.5"/><path d="M350,346.5V375.5"/><path d="M356,346.5V355H373V375.5"/>
<path d="M125,390.5V398H103V411.5"/><path d="M131,390.5V411.5"/><path d="M151,390.5V411.5"/><path d="M157,390.5V398H173V411.5"/><path d="M259,390.5V398H244V411.5"/><path d="M265,390.5V411.5"/><path d="M303,390.5V398H287V411.5"/><path d="M309,390.5V411.5"/><path d="M327,390.5V411.5"/><path d="M333,390.5V398H352V411.5"/>
<path d="M100,426.5V434H85V447.5"/><path d="M106,426.5V447.5"/><path d="M128,426.5V447.5"/><path d="M134,426.5V434H149V447.5"/><path d="M284,426.5V434H265V447.5"/><path d="M287,426.5V447.5"/><path d="M308,426.5V447.5"/><path d="M312,426.5V434H330V447.5"/>
</g>
<g id="nodes3" class="nd3">
<g id="c0" transform="translate(63,44)"><rect class="y3" x="-6" y="-8" width="12" height="16"/></g>
<g id="c1" transform="translate(50,73)"><rect class="y3" x="-6" y="-8" width="12" height="16"/></g>
<g id="c2" transform="translate(75,73)"><rect class="y3" x="-6" y="-8" width="12" height="16"/></g>
<g id="c3" transform="translate(50,102)"><rect class="y3" x="-6" y="-8" width="12" height="16"/></g>
<g id="c4" transform="translate(72,102)"><rect class="y3" x="-6" y="-8" width="12" height="16"/></g>
<g id="c5" transform="translate(94,102)"><rect class="y3" x="-6" y="-8" width="12" height="16"/></g>
<g id="c6" transform="translate(33,131)"><rect class="y3" x="-6" y="-8" width="12" height="16"/></g>
<g id="c7" transform="translate(60,131)"><rect class="y3" x="-6" y="-8" width="12" height="16"/></g>
<g id="c8" transform="translate(91,131)"><rect class="y3" x="-6" y="-8" width="12" height="16"/></g>
<g id="c9" transform="translate(113,131)"><rect class="y3" x="-6" y="-8" width="12" height="16"/></g>
<g id="c10" transform="translate(14,160)"><ellipse class="r3" rx="5.6" ry="8.2"/></g>
<g id="c11" transform="translate(36,160)"><rect class="y3" x="-6" y="-8" width="12" height="16"/></g>
<g id="c12" transform="translate(57,160)"><rect class="g3" x="-6" y="-8" width="12" height="16"/></g>
<g id="c13" transform="translate(79,160)"><rect class="y3" x="-6" y="-8" width="12" height="16"/></g>
<g id="c14" transform="translate(103,160)"><rect class="y3" x="-6" y="-8" width="12" height="16"/></g>
<g id="c15" transform="translate(176,160)"><rect class="y3" x="-6" y="-8" width="12" height="16"/></g>
<g id="c16" transform="translate(57,188)"><rect class="g3" x="-6" y="-8" width="12" height="16"/></g>
<g id="c17" transform="translate(79,188)"><rect class="y3" x="-6" y="-8" width="12" height="16"/></g>
<g id="c18" transform="translate(106,188)"><rect class="y3" x="-6" y="-8" width="12" height="16"/></g>
<g id="c19" transform="translate(176,188)"><rect class="y3" x="-6" y="-8" width="12" height="16"/></g>
<g id="c20" transform="translate(60,217)"><rect class="y3" x="-6" y="-8" width="12" height="16"/></g>
<g id="c21" transform="translate(82,217)"><rect class="y3" x="-6" y="-8" width="12" height="16"/></g>
<g id="c22" transform="translate(103,217)"><ellipse class="r3" rx="5.6" ry="8.2"/></g>
<g id="c23" transform="translate(125,217)"><rect class="y3" x="-6" y="-8" width="12" height="16"/></g>
<g id="c24" transform="translate(173,217)"><rect class="g3" x="-6" y="-8" width="12" height="16"/></g>
<g id="c25" transform="translate(203,217)"><ellipse class="r3" rx="5.6" ry="8.2"/></g>
<g id="c26" transform="translate(106,247)"><rect class="y3" x="-6" y="-8" width="12" height="16"/></g>
<g id="c27" transform="translate(128,247)"><rect class="y3" x="-6" y="-8" width="12" height="16"/></g>
<g id="c28" transform="translate(149,247)"><rect class="y3" x="-6" y="-8" width="12" height="16"/></g>
<g id="c29" transform="translate(176,247)"><ellipse class="r3" rx="5.6" ry="8.2"/></g>
<g id="c30" transform="translate(200,247)"><rect class="g3" x="-6" y="-8" width="12" height="16"/></g>
<g id="c31" transform="translate(233,247)"><rect class="y3" x="-6" y="-8" width="12" height="16"/></g>
<g id="c32" transform="translate(87,275)"><rect class="y3" x="-6" y="-8" width="12" height="16"/></g>
<g id="c33" transform="translate(109,275)"><rect class="y3" x="-6" y="-8" width="12" height="16"/></g>
<g id="c34" transform="translate(130,275)"><rect class="y3" x="-6" y="-8" width="12" height="16"/></g>
<g id="c35" transform="translate(152,275)"><ellipse class="r3" rx="5.6" ry="8.2"/></g>
<g id="c36" transform="translate(173,275)"><rect class="g3" x="-6" y="-8" width="12" height="16"/></g>
<g id="c37" transform="translate(195,275)"><rect class="y3" x="-6" y="-8" width="12" height="16"/></g>
<g id="c38" transform="translate(230,275)"><rect class="y3" x="-6" y="-8" width="12" height="16"/></g>
<g id="c39" transform="translate(257,275)"><rect class="y3" x="-6" y="-8" width="12" height="16"/></g>
<g id="c40" transform="translate(106,311)"><rect class="y3" x="-6" y="-8" width="12" height="16"/></g>
<g id="c41" transform="translate(128,311)"><rect class="g3" x="-6" y="-8" width="12" height="16"/></g>
<g id="c42" transform="translate(149,311)"><rect class="y3" x="-6" y="-8" width="12" height="16"/></g>
<g id="c43" transform="translate(171,311)"><ellipse class="r3" rx="5.6" ry="8.2"/></g>
<g id="c44" transform="translate(192,311)"><rect class="y3" x="-6" y="-8" width="12" height="16"/></g>
<g id="c45" transform="translate(233,311)"><rect class="y3" x="-6" y="-8" width="12" height="16"/></g>
<g id="c46" transform="translate(254,311)"><rect class="y3" x="-6" y="-8" width="12" height="16"/></g>
<g id="c47" transform="translate(319,311)"><rect class="y3" x="-6" y="-8" width="12" height="16"/></g>
<g id="c48" transform="translate(130,339)"><rect class="y3" x="-6" y="-8" width="12" height="16"/></g>
<g id="c49" transform="translate(152,339)"><rect class="y3" x="-6" y="-8" width="12" height="16"/></g>
<g id="c50" transform="translate(173,339)"><rect class="y3" x="-6" y="-8" width="12" height="16"/></g>
<g id="c51" transform="translate(195,339)"><rect class="y3" x="-6" y="-8" width="12" height="16"/></g>
<g id="c52" transform="translate(230,339)"><rect class="y3" x="-6" y="-8" width="12" height="16"/></g>
<g id="c53" transform="translate(265,339)"><ellipse class="r3" rx="5.6" ry="8.2"/></g>
<g id="c54" transform="translate(316,339)"><ellipse class="r3" rx="5.6" ry="8.2"/></g>
<g id="c55" transform="translate(353,339)"><rect class="y3" x="-6" y="-8" width="12" height="16"/></g>
<g id="c56" transform="translate(128,383)"><rect class="y3" x="-6" y="-8" width="12" height="16"/></g>
<g id="c57" transform="translate(154,383)"><rect class="y3" x="-6" y="-8" width="12" height="16"/></g>
<g id="c58" transform="translate(176,383)"><ellipse class="r3" rx="5.6" ry="8.2"/></g>
<g id="c59" transform="translate(198,383)"><rect class="y3" x="-6" y="-8" width="12" height="16"/></g>
<g id="c60" transform="translate(219,383)"><rect class="y3" x="-6" y="-8" width="12" height="16"/></g>
<g id="c61" transform="translate(241,383)"><rect class="y3" x="-6" y="-8" width="12" height="16"/></g>
<g id="c62" transform="translate(262,383)"><rect class="y3" x="-6" y="-8" width="12" height="16"/></g>
<g id="c63" transform="translate(284,383)"><rect class="y3" x="-6" y="-8" width="12" height="16"/></g>
<g id="c64" transform="translate(306,383)"><rect class="y3" x="-6" y="-8" width="12" height="16"/></g>
<g id="c65" transform="translate(330,383)"><rect class="y3" x="-6" y="-8" width="12" height="16"/></g>
<g id="c66" transform="translate(350,383)"><rect class="y3" x="-6" y="-8" width="12" height="16"/></g>
<g id="c67" transform="translate(373,383)"><rect class="g3" x="-6" y="-8" width="12" height="16"/></g>
<g id="c68" transform="translate(103,419)"><ellipse class="r3" rx="5.6" ry="8.2"/></g>
<g id="c69" transform="translate(131,419)"><rect class="y3" x="-6" y="-8" width="12" height="16"/></g>
<g id="c70" transform="translate(151,419)"><ellipse class="r3" rx="5.6" ry="8.2"/></g>
<g id="c71" transform="translate(173,419)"><ellipse class="r3" rx="5.6" ry="8.2"/></g>
<g id="c72" transform="translate(244,419)"><rect class="y3" x="-6" y="-8" width="12" height="16"/></g>
<g id="c73" transform="translate(265,419)"><rect class="y3" x="-6" y="-8" width="12" height="16"/></g>
<g id="c74" transform="translate(287,419)"><ellipse class="r3" rx="5.6" ry="8.2"/></g>
<g id="c75" transform="translate(309,419)"><rect class="g3" x="-6" y="-8" width="12" height="16"/></g>
<g id="c76" transform="translate(327,419)"><ellipse class="r3" rx="5.6" ry="8.2"/></g>
<g id="c77" transform="translate(352,419)"><ellipse class="r3" rx="5.6" ry="8.2"/></g>
<g id="c78" transform="translate(85,455)"><rect class="y3" x="-6" y="-8" width="12" height="16"/></g>
<g id="c79" transform="translate(106,455)"><rect class="y3" x="-6" y="-8" width="12" height="16"/></g>
<g id="c80" transform="translate(128,455)"><ellipse class="r3" rx="5.6" ry="8.2"/></g>
<g id="c81" transform="translate(149,455)"><rect class="y3" x="-6" y="-8" width="12" height="16"/></g>
<g id="c82" transform="translate(265,455)"><ellipse class="r3" rx="5.6" ry="8.2"/></g>
<g id="c83" transform="translate(287,455)"><rect class="y3" x="-6" y="-8" width="12" height="16"/></g>
<g id="c84" transform="translate(308,455)"><ellipse class="r3" rx="5.6" ry="8.2"/></g>
<g id="c85" transform="translate(330,455)"><ellipse class="r3" rx="5.6" ry="8.2"/></g>
</g>
</g>
</svg>
